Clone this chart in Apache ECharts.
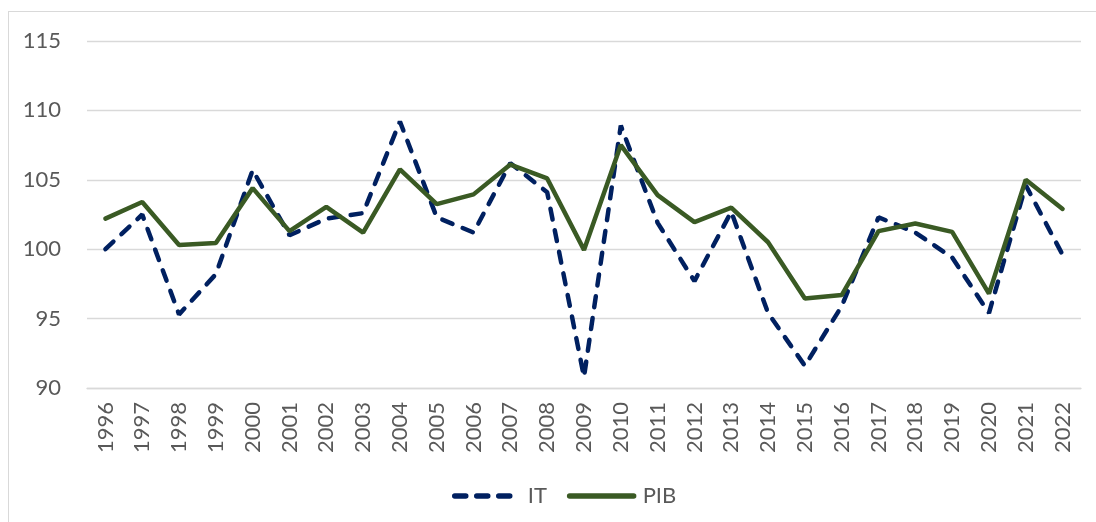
<!DOCTYPE html>
<html>
<head>
<meta charset="utf-8">
<script src="https://cdn.jsdelivr.net/npm/echarts@6/dist/echarts.min.js"></script>
<style>
  body { margin:0; background:#fff; }
  #frame { position:absolute; left:8px; top:11px; width:1200px; height:600px; border-left:1.5px solid #d9d9d9; border-top:1.5px solid #d9d9d9; }
</style>
</head>
<body>
<div id="frame"></div>
<div id="myChart" style="position:absolute;left:0;top:0;width:1096px;height:522px;"></div>
<script>
var years = ['1996','1997','1998','1999','2000','2001','2002','2003','2004','2005','2006','2007','2008','2009',
  '2010','2011','2012','2013','2014','2015','2016','2017','2018','2019','2020','2021','2022']
var itValues = [100.0, 102.5, 95.3, 98.2, 105.7, 101.0, 102.2, 102.6, 109.2, 102.3, 101.2, 106.2, 104.1, 90.8,
  108.9, 101.9, 97.7, 102.7, 95.4, 91.6, 95.9, 102.3, 101.2, 99.4, 95.4, 104.6, 99.6]
var pibValues = [102.2, 103.4, 100.3, 100.45, 104.4, 101.3, 103.05, 101.2, 105.75, 103.25, 103.95, 106.1, 105.1, 99.95,
  107.5, 103.9, 101.95, 103.0, 100.5, 96.45, 96.7, 101.3, 101.85, 101.25, 96.8, 105.0, 102.9]
var yTicks = { min: 90, max: 115, step: 5 }

var font = 'Lato, sans-serif'
var myChart = echarts.init(document.getElementById('myChart'))
myChart.setOption({
  animation: false,
  grid: { left: 87, right: 15, top: 41, bottom: 134 },
  legend: {
    top: 480,
    left: 447,
    itemWidth: 64,
    itemHeight: 14,
    itemGap: 20,
    itemStyle: { color: 'rgba(0,0,0,0)', borderWidth: 0 },
    lineStyle: { width: 5.5, cap: 'round' },
    textStyle: { color: '#595959', fontSize: 22, fontFamily: font, padding: [0, 0, 0, 4] },
    data: ['IT', 'PIB']
  },
  xAxis: {
    type: 'category',
    data: years,
    boundaryGap: true,
    axisLine: { lineStyle: { color: '#d9d9d9', width: 1.3 } },
    axisTick: { show: false },
    axisLabel: { rotate: 90, margin: 14, color: '#595959', fontSize: 22, fontFamily: font, interval: 0 }
  },
  yAxis: {
    type: 'value',
    min: yTicks.min,
    max: yTicks.max,
    interval: yTicks.step,
    axisLine: { show: false },
    axisTick: { show: false },
    axisLabel: { margin: 26, color: '#595959', fontSize: 22, fontFamily: font },
    splitLine: { lineStyle: { color: '#d9d9d9', width: 1.3 } }
  },
  series: [{
    name: 'IT',
    type: 'line',
    data: itValues,
    symbol: 'none',
    lineStyle: { color: '#002060', width: 4.5, type: [11, 11], cap: 'round' },
    itemStyle: { color: '#002060' }
  }, {
    name: 'PIB',
    type: 'line',
    data: pibValues,
    symbol: 'none',
    lineStyle: { color: '#3a5a24', width: 4.5, cap: 'round' },
    itemStyle: { color: '#3a5a24' }
  }]
})
</script>
</body>
</html>
